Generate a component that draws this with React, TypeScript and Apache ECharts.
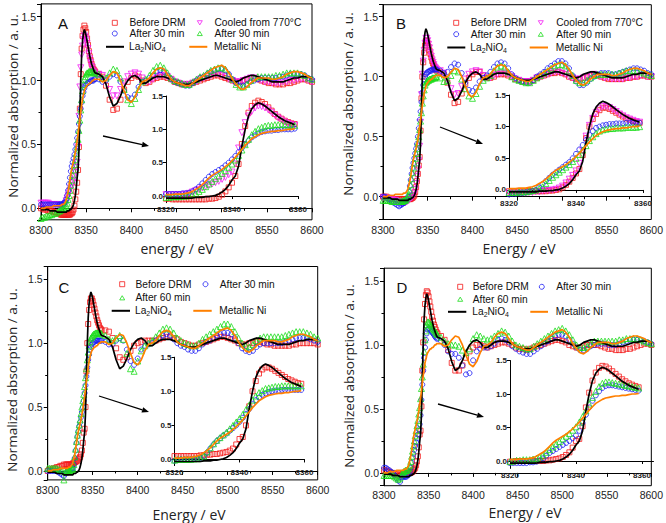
import React, { useEffect, useRef } from "react";
import * as echarts from "echarts";

// ---------- DATA ----------
const energy: number[] = [
  8300, 8302, 8304, 8306, 8308, 8310, 8312, 8314, 8316, 8318,
  8320, 8321, 8322, 8323, 8324, 8325, 8326, 8327, 8328, 8329,
  8330, 8331, 8332, 8333, 8334, 8335, 8336, 8337, 8338, 8339,
  8340, 8341, 8342, 8343, 8344, 8345, 8346, 8347, 8348, 8349,
  8350, 8351, 8352, 8353, 8354, 8355, 8356, 8357, 8358, 8359,
  8360,
  8364, 8368, 8372, 8376, 8380, 8384, 8388, 8392, 8396, 8400,
  8404, 8408, 8412, 8416, 8420, 8424, 8428, 8432, 8436, 8440,
  8444, 8448, 8452, 8456, 8460, 8464, 8468, 8472, 8476, 8480,
  8484, 8488, 8492, 8496, 8500, 8504, 8508, 8512, 8516, 8520,
  8524, 8528, 8532, 8536, 8540, 8544, 8548, 8552, 8556, 8560,
  8564, 8568, 8572, 8576, 8580, 8584, 8588, 8592, 8596, 8600,
];

const la2nio4: number[] = [
  -0.01, -0.01, -0.01, -0.01, -0.01, -0.02, -0.02, -0.02, -0.02, -0.03,
  -0.03, -0.03, -0.03, -0.03, -0.03, -0.03, -0.03, -0.03, -0.03, -0.02,
  -0.02, -0.02, -0.01, -0.01, 0.0, 0.01, 0.03, 0.06, 0.1, 0.16,
  0.24, 0.3, 0.45, 0.75, 1.0, 1.2, 1.31, 1.37, 1.4, 1.38,
  1.35, 1.31, 1.27, 1.23, 1.19, 1.16, 1.13, 1.11, 1.09, 1.07,
  1.06,
  1.05, 1.03, 0.97, 0.87, 0.8, 0.82, 0.88, 0.95, 1.0, 1.03,
  1.04, 1.02, 0.98, 0.98, 1.0, 1.02, 1.03, 1.03, 1.03, 1.02,
  1.01, 0.99, 0.98, 0.97, 0.97, 0.97, 0.98, 0.99, 1.0, 1.01,
  1.02, 1.03, 1.04, 1.04, 1.03, 1.02, 1.01, 1.0, 0.99, 1.0,
  1.02, 1.03, 1.04, 1.04, 1.03, 1.02, 1.01, 1.0, 0.99, 0.99,
  0.99, 0.99, 1.0, 1.01, 1.02, 1.02, 1.03, 1.03, 1.03, 1.02,
];

const metallicNi: number[] = [
  0.0, 0.0, 0.0, 0.01, 0.01, 0.01, 0.01, 0.02, 0.02, 0.02,
  0.02, 0.02, 0.02, 0.03, 0.03, 0.03, 0.04, 0.05, 0.07, 0.1,
  0.13, 0.17, 0.22, 0.27, 0.31, 0.34, 0.37, 0.4, 0.44, 0.48,
  0.53, 0.58, 0.64, 0.7, 0.76, 0.81, 0.86, 0.89, 0.92, 0.94,
  0.95, 0.96, 0.97, 0.97, 0.98, 0.98, 0.99, 1.0, 1.0, 1.01,
  1.01,
  1.01, 0.99, 1.0, 1.04, 1.07, 1.06, 1.0, 0.92, 0.85, 0.83,
  0.87, 0.94, 0.99, 1.0, 1.02, 1.06, 1.09, 1.1, 1.09, 1.05,
  1.01, 0.99, 0.98, 0.97, 0.96, 0.96, 0.98, 1.0, 1.02, 1.04,
  1.06, 1.08, 1.1, 1.11, 1.12, 1.1, 1.06, 1.01, 0.97, 0.94,
  0.93, 0.95, 0.98, 1.0, 1.02, 1.02, 1.02, 1.02, 1.01, 1.01,
  1.02, 1.03, 1.05, 1.06, 1.07, 1.07, 1.06, 1.05, 1.03, 1.02,
];

// Panel A
const aBefore: number[] = [
  0.0, 0.0, -0.01, -0.01, -0.02, -0.02, -0.02, -0.03, -0.03, -0.04,
  -0.04, -0.04, -0.05, -0.05, -0.05, -0.05, -0.05, -0.05, -0.05, -0.05,
  -0.05, -0.05, -0.05, -0.04, -0.04, -0.03, -0.01, 0.02, 0.07, 0.13,
  0.2, 0.3, 0.48, 0.78, 1.05, 1.25, 1.35, 1.4, 1.43, 1.41,
  1.38, 1.33, 1.28, 1.23, 1.19, 1.16, 1.13, 1.11, 1.09, 1.08,
  1.07,
  1.05, 1.03, 0.96, 0.85, 0.77, 0.78, 0.85, 0.93, 0.99, 1.02,
  1.04, 1.03, 1.0, 0.98, 0.99, 1.01, 1.02, 1.03, 1.03, 1.02,
  1.01, 0.99, 0.98, 0.97, 0.97, 0.97, 0.98, 0.99, 1.0, 1.01,
  1.02, 1.03, 1.04, 1.04, 1.03, 1.02, 1.01, 1.0, 0.99, 0.99,
  1.0, 1.01, 1.02, 1.02, 1.01, 1.0, 0.99, 0.98, 0.98, 0.97,
  0.97, 0.97, 0.98, 0.98, 0.99, 1.0, 1.01, 1.01, 1.0, 0.99,
];
const a30: number[] = [
  0.03, 0.03, 0.03, 0.03, 0.03, 0.03, 0.03, 0.03, 0.03, 0.03,
  0.03, 0.03, 0.03, 0.03, 0.03, 0.04, 0.04, 0.05, 0.07, 0.1,
  0.14, 0.19, 0.24, 0.29, 0.33, 0.36, 0.39, 0.42, 0.46, 0.5,
  0.55, 0.6, 0.66, 0.72, 0.78, 0.83, 0.88, 0.91, 0.94, 0.96,
  0.97, 0.98, 0.98, 0.99, 0.99, 1.0, 1.0, 1.0, 1.0, 1.01,
  1.01,
  1.01, 0.99, 1.0, 1.03, 1.05, 1.04, 0.99, 0.92, 0.87, 0.86,
  0.89, 0.95, 0.99, 1.0, 1.02, 1.04, 1.07, 1.08, 1.07, 1.04,
  1.01, 0.99, 0.98, 0.97, 0.96, 0.96, 0.98, 1.0, 1.02, 1.03,
  1.05, 1.07, 1.08, 1.09, 1.09, 1.08, 1.05, 1.01, 0.98, 0.96,
  0.96, 0.97, 0.99, 1.0, 1.01, 1.02, 1.02, 1.02, 1.02, 1.02,
  1.03, 1.03, 1.04, 1.05, 1.05, 1.05, 1.05, 1.04, 1.02, 1.01,
];
const aCooled: number[] = [
  0.04, 0.04, 0.04, 0.04, 0.04, 0.03, 0.03, 0.03, 0.03, 0.03,
  0.02, 0.02, 0.02, 0.02, 0.02, 0.02, 0.03, 0.04, 0.06, 0.08,
  0.1, 0.12, 0.14, 0.16, 0.18, 0.2, 0.22, 0.25, 0.28, 0.32,
  0.36, 0.48, 0.72, 0.95, 1.1, 1.2, 1.27, 1.32, 1.35, 1.34,
  1.32, 1.29, 1.25, 1.21, 1.17, 1.14, 1.11, 1.09, 1.07, 1.06,
  1.05,
  1.05, 1.04, 1.0, 0.93, 0.88, 0.88, 0.93, 0.99, 1.03, 1.05,
  1.06, 1.05, 1.02, 0.99, 0.99, 1.01, 1.03, 1.04, 1.04, 1.03,
  1.01, 0.99, 0.98, 0.97, 0.97, 0.97, 0.98, 0.99, 1.01, 1.02,
  1.03, 1.04, 1.05, 1.05, 1.04, 1.03, 1.01, 1.0, 0.99, 0.99,
  1.0, 1.01, 1.02, 1.02, 1.01, 1.0, 0.99, 0.99, 0.98, 0.98,
  0.98, 0.99, 0.99, 1.0, 1.0, 1.01, 1.01, 1.01, 1.0, 0.99,
];
const a90: number[] = [
  -0.08, -0.07, -0.07, -0.06, -0.06, -0.05, -0.05, -0.04, -0.04, -0.03,
  -0.02, -0.02, -0.01, -0.01, -0.01, 0.0, 0.0, 0.01, 0.02, 0.04,
  0.07, 0.1, 0.14, 0.18, 0.22, 0.26, 0.3, 0.34, 0.38, 0.43,
  0.48, 0.54, 0.61, 0.69, 0.77, 0.85, 0.92, 0.97, 1.01, 1.03,
  1.05, 1.06, 1.06, 1.07, 1.07, 1.07, 1.07, 1.07, 1.06, 1.06,
  1.06,
  1.05, 1.02, 1.02, 1.06, 1.09, 1.08, 1.02, 0.93, 0.85, 0.82,
  0.86, 0.93, 0.99, 1.01, 1.04, 1.08, 1.11, 1.12, 1.1, 1.06,
  1.02, 1.0, 0.99, 0.98, 0.97, 0.97, 0.99, 1.01, 1.03, 1.04,
  1.06, 1.08, 1.09, 1.1, 1.1, 1.09, 1.05, 1.01, 0.97, 0.95,
  0.95, 0.97, 1.0, 1.02, 1.03, 1.03, 1.03, 1.03, 1.03, 1.04,
  1.04, 1.05, 1.06, 1.06, 1.06, 1.06, 1.05, 1.04, 1.02, 1.01,
];

// Panel B
const bBefore: number[] = [
  0.0, 0.0, 0.0, -0.01, -0.01, -0.01, -0.02, -0.02, -0.02, -0.02,
  -0.02, -0.02, -0.02, -0.02, -0.02, -0.02, -0.02, -0.02, -0.02, -0.02,
  -0.02, -0.02, -0.01, -0.01, 0.0, 0.01, 0.04, 0.08, 0.13, 0.19,
  0.26, 0.33, 0.55, 0.82, 1.0, 1.12, 1.2, 1.26, 1.3, 1.3,
  1.28, 1.25, 1.22, 1.19, 1.16, 1.13, 1.11, 1.09, 1.07, 1.06,
  1.05,
  1.04, 1.02, 0.95, 0.85, 0.78, 0.79, 0.86, 0.94, 0.99, 1.02,
  1.04, 1.04, 1.01, 0.99, 0.99, 1.0, 1.02, 1.02, 1.02, 1.01,
  1.0, 0.98, 0.97, 0.96, 0.96, 0.96, 0.97, 0.99, 1.0, 1.01,
  1.02, 1.03, 1.03, 1.04, 1.03, 1.02, 1.0, 0.99, 0.98, 0.98,
  0.99, 1.0, 1.01, 1.02, 1.01, 1.0, 0.99, 0.98, 0.98, 0.98,
  0.98, 0.98, 0.99, 0.99, 1.0, 1.0, 1.01, 1.01, 1.0, 1.0,
];
const b30: number[] = [
  0.0, 0.0, -0.01, -0.02, -0.03, -0.04, -0.05, -0.06, -0.07, -0.08,
  -0.07, -0.06, -0.06, -0.05, -0.05, -0.04, -0.03, -0.02, 0.0, 0.04,
  0.09, 0.14, 0.19, 0.24, 0.28, 0.32, 0.36, 0.4, 0.44, 0.5,
  0.57, 0.64, 0.71, 0.79, 0.87, 0.93, 0.98, 1.0, 1.02, 1.03,
  1.04, 1.04, 1.05, 1.05, 1.05, 1.06, 1.06, 1.06, 1.06, 1.06,
  1.06,
  1.05, 1.03, 1.04, 1.08, 1.11, 1.1, 1.03, 0.95, 0.89, 0.88,
  0.91, 0.96, 0.99, 1.01, 1.04, 1.08, 1.11, 1.12, 1.11, 1.07,
  1.02, 0.99, 0.97, 0.96, 0.95, 0.95, 0.97, 1.0, 1.02, 1.04,
  1.07, 1.09, 1.11, 1.13, 1.13, 1.11, 1.07, 1.01, 0.96, 0.93,
  0.93, 0.95, 0.98, 1.0, 1.02, 1.03, 1.03, 1.03, 1.02, 1.02,
  1.03, 1.04, 1.05, 1.06, 1.07, 1.07, 1.06, 1.05, 1.03, 1.02,
];
const bCooled: number[] = [
  -0.01, -0.01, -0.01, -0.02, -0.02, -0.02, -0.03, -0.03, -0.04, -0.04,
  -0.05, -0.05, -0.05, -0.05, -0.05, -0.05, -0.04, -0.04, -0.03, -0.03,
  -0.02, -0.01, -0.01, 0.0, 0.01, 0.03, 0.06, 0.11, 0.17, 0.23,
  0.3, 0.42, 0.62, 0.85, 1.02, 1.13, 1.22, 1.28, 1.32, 1.32,
  1.3, 1.27, 1.24, 1.2, 1.17, 1.14, 1.12, 1.1, 1.08, 1.07,
  1.06,
  1.05, 1.03, 0.97, 0.9, 0.85, 0.86, 0.92, 0.98, 1.02, 1.04,
  1.05, 1.04, 1.01, 0.99, 0.99, 1.01, 1.02, 1.03, 1.03, 1.02,
  1.0, 0.98, 0.97, 0.96, 0.96, 0.96, 0.97, 0.99, 1.0, 1.01,
  1.02, 1.03, 1.04, 1.04, 1.03, 1.02, 1.0, 0.99, 0.98, 0.98,
  0.99, 1.0, 1.01, 1.02, 1.01, 1.0, 0.99, 0.99, 0.98, 0.98,
  0.98, 0.98, 0.99, 0.99, 1.0, 1.0, 1.01, 1.01, 1.0, 1.0,
];
const b90: number[] = [
  -0.03, -0.03, -0.03, -0.03, -0.03, -0.04, -0.04, -0.04, -0.04, -0.04,
  -0.04, -0.04, -0.04, -0.03, -0.03, -0.03, -0.02, -0.01, 0.0, 0.02,
  0.05, 0.1, 0.15, 0.2, 0.24, 0.28, 0.32, 0.36, 0.4, 0.45,
  0.5, 0.56, 0.63, 0.7, 0.78, 0.84, 0.89, 0.93, 0.95, 0.96,
  0.97, 0.97, 0.98, 0.98, 0.98, 0.99, 0.99, 0.99, 0.99, 1.0,
  1.0,
  0.99, 0.96, 0.97, 1.01, 1.05, 1.04, 0.98, 0.9, 0.84, 0.82,
  0.86, 0.92, 0.97, 0.99, 1.01, 1.05, 1.08, 1.09, 1.08, 1.04,
  1.0, 0.98, 0.97, 0.96, 0.95, 0.95, 0.97, 0.99, 1.01, 1.03,
  1.05, 1.07, 1.09, 1.1, 1.1, 1.09, 1.05, 1.01, 0.97, 0.95,
  0.95, 0.97, 0.99, 1.01, 1.02, 1.02, 1.02, 1.02, 1.02, 1.02,
  1.03, 1.04, 1.05, 1.05, 1.05, 1.05, 1.04, 1.03, 1.02, 1.01,
];

// Panel C
const cBefore: number[] = [
  0.0, 0.01, 0.01, 0.02, 0.02, 0.03, 0.03, 0.04, 0.04, 0.05,
  0.05, 0.05, 0.05, 0.05, 0.05, 0.05, 0.05, 0.05, 0.06, 0.06,
  0.07, 0.07, 0.08, 0.08, 0.09, 0.1, 0.11, 0.13, 0.16, 0.22,
  0.3, 0.33, 0.5, 0.78, 1.0, 1.15, 1.26, 1.32, 1.35, 1.35,
  1.33, 1.3, 1.27, 1.24, 1.21, 1.18, 1.16, 1.14, 1.12, 1.11,
  1.1,
  1.1, 1.09, 1.04, 0.96, 0.89, 0.87, 0.89, 0.94, 0.98, 1.0,
  1.01, 1.02, 1.02, 1.02, 1.02, 1.03, 1.04, 1.05, 1.05, 1.04,
  1.03, 1.01, 1.0, 0.99, 0.98, 0.98, 0.99, 1.0, 1.01, 1.02,
  1.03, 1.04, 1.05, 1.05, 1.04, 1.03, 1.02, 1.0, 0.99, 0.99,
  1.0, 1.0, 1.01, 1.01, 1.0, 0.99, 0.99, 0.98, 0.98, 0.98,
  0.98, 0.98, 0.99, 0.99, 1.0, 1.0, 1.0, 1.0, 1.0, 0.99,
];
const c30: number[] = [
  0.0, 0.0, 0.0, 0.0, 0.0, 0.0, -0.01, -0.02, -0.03, -0.04,
  -0.02, -0.01, 0.0, 0.0, 0.0, 0.0, 0.01, 0.01, 0.02, 0.05,
  0.1, 0.16, 0.22, 0.27, 0.31, 0.35, 0.38, 0.42, 0.46, 0.5,
  0.55, 0.61, 0.67, 0.74, 0.81, 0.87, 0.91, 0.95, 0.97, 0.99,
  1.0, 1.01, 1.01, 1.02, 1.02, 1.02, 1.02, 1.02, 1.02, 1.02,
  1.02,
  1.01, 0.99, 0.99, 1.02, 1.04, 1.02, 0.95, 0.86, 0.83, 0.88,
  0.95, 0.98, 0.99, 1.0, 1.02, 1.04, 1.06, 1.07, 1.06, 1.03,
  1.0, 0.98, 0.97, 0.95, 0.94, 0.94, 0.96, 0.99, 1.01, 1.02,
  1.04, 1.06, 1.07, 1.08, 1.08, 1.07, 1.04, 1.0, 0.96, 0.94,
  0.93, 0.94, 0.97, 0.99, 1.0, 1.0, 1.0, 1.0, 1.0, 1.0,
  1.01, 1.02, 1.03, 1.04, 1.04, 1.04, 1.04, 1.03, 1.02, 1.01,
];
const c60: number[] = [
  0.02, 0.02, 0.02, 0.02, 0.02, 0.02, 0.01, 0.01, 0.0, -0.07,
  -0.01, 0.0, 0.0, 0.0, 0.0, 0.0, 0.01, 0.01, 0.02, 0.05,
  0.11, 0.17, 0.23, 0.28, 0.32, 0.36, 0.4, 0.45, 0.5, 0.55,
  0.6, 0.66, 0.73, 0.8, 0.87, 0.93, 0.98, 1.01, 1.04, 1.05,
  1.06, 1.07, 1.07, 1.08, 1.08, 1.08, 1.08, 1.08, 1.08, 1.08,
  1.07,
  1.06, 1.03, 1.02, 1.04, 1.06, 1.03, 0.92, 0.8, 0.78, 0.86,
  0.94, 0.98, 1.0, 1.02, 1.05, 1.08, 1.11, 1.12, 1.11, 1.08,
  1.04, 1.02, 1.0, 0.99, 0.98, 0.98, 1.0, 1.03, 1.05, 1.07,
  1.09, 1.11, 1.13, 1.15, 1.15, 1.13, 1.09, 1.04, 1.0, 0.98,
  0.97, 0.99, 1.02, 1.04, 1.05, 1.05, 1.05, 1.05, 1.05, 1.05,
  1.06, 1.07, 1.08, 1.09, 1.09, 1.09, 1.08, 1.07, 1.05, 1.04,
];

// Panel D
const dBefore: number[] = [
  0.02, 0.02, 0.01, 0.01, 0.0, 0.0, -0.01, -0.01, -0.02, -0.02,
  -0.01, -0.01, 0.0, 0.0, 0.0, 0.0, 0.0, 0.0, 0.0, 0.0,
  0.0, 0.01, 0.01, 0.02, 0.03, 0.04, 0.06, 0.09, 0.13, 0.2,
  0.3, 0.33, 0.52, 0.8, 1.02, 1.2, 1.32, 1.39, 1.42, 1.41,
  1.38, 1.34, 1.3, 1.26, 1.22, 1.19, 1.16, 1.14, 1.12, 1.1,
  1.09,
  1.07, 1.04, 0.96, 0.86, 0.8, 0.8, 0.84, 0.9, 0.95, 0.98,
  1.0, 1.0, 0.99, 0.98, 0.99, 1.0, 1.01, 1.02, 1.02, 1.01,
  1.0, 0.98, 0.97, 0.97, 0.96, 0.97, 0.98, 0.99, 1.0, 1.01,
  1.02, 1.03, 1.04, 1.04, 1.03, 1.02, 1.0, 0.99, 0.98, 0.98,
  0.99, 1.0, 1.0, 1.0, 1.0, 0.99, 0.98, 0.97, 0.97, 0.96,
  0.96, 0.96, 0.97, 0.97, 0.98, 0.99, 1.0, 1.01, 1.01, 1.0,
];
const d30: number[] = [
  0.04, 0.04, 0.03, 0.02, 0.01, 0.0, -0.02, -0.04, -0.06, -0.07,
  -0.03, -0.03, -0.03, -0.03, -0.03, -0.03, -0.02, -0.02, -0.01, 0.01,
  0.04, 0.08, 0.12, 0.15, 0.18, 0.21, 0.24, 0.27, 0.3, 0.34,
  0.38, 0.45, 0.57, 0.69, 0.8, 0.9, 0.98, 1.04, 1.09, 1.12,
  1.13, 1.13, 1.12, 1.11, 1.1, 1.09, 1.08, 1.07, 1.06, 1.05,
  1.05,
  1.03, 1.0, 0.95, 0.93, 0.93, 0.9, 0.84, 0.77, 0.78, 0.88,
  0.95, 0.97, 0.98, 0.98, 0.99, 1.01, 1.04, 1.05, 1.04, 1.02,
  0.99, 0.97, 0.95, 0.94, 0.93, 0.93, 0.95, 0.97, 0.99, 1.01,
  1.03, 1.05, 1.07, 1.08, 1.08, 1.07, 1.04, 1.01, 0.98, 0.96,
  0.96, 0.97, 0.99, 1.0, 1.01, 1.01, 1.01, 1.0, 1.0, 1.0,
  1.01, 1.02, 1.03, 1.04, 1.04, 1.04, 1.04, 1.03, 1.02, 1.01,
];
const d60: number[] = [
  -0.02, -0.02, -0.02, -0.02, -0.02, -0.02, -0.03, -0.04, -0.05, -0.04,
  -0.01, 0.0, 0.01, 0.01, 0.02, 0.02, 0.02, 0.03, 0.04, 0.06,
  0.09, 0.13, 0.17, 0.21, 0.25, 0.29, 0.33, 0.37, 0.41, 0.46,
  0.51, 0.58, 0.66, 0.75, 0.85, 0.95, 1.04, 1.11, 1.16, 1.18,
  1.18, 1.17, 1.16, 1.15, 1.14, 1.13, 1.12, 1.11, 1.1, 1.09,
  1.08,
  1.06, 1.03, 1.01, 1.0, 1.0, 0.99, 0.96, 0.94, 0.97, 1.05,
  1.08, 1.07, 1.05, 1.04, 1.05, 1.07, 1.09, 1.11, 1.1, 1.07,
  1.03, 1.0, 0.99, 0.98, 0.97, 0.97, 0.99, 1.01, 1.03, 1.05,
  1.07, 1.09, 1.11, 1.12, 1.13, 1.11, 1.08, 1.04, 1.0, 0.98,
  0.98, 0.99, 1.01, 1.03, 1.03, 1.03, 1.03, 1.03, 1.03, 1.03,
  1.04, 1.04, 1.05, 1.05, 1.05, 1.05, 1.04, 1.03, 1.02, 1.01,
];

const mainTicksX = { min: 8300, max: 8600, interval: 50 };
const insetTicksX = { min: 8320, max: 8360, interval: 20 };

// ---------- STYLE / LAYOUT ----------
const FONT = '"Liberation Sans", Arial, sans-serif';
const TITLE_FONT = '"Open Sans", "Liberation Sans", sans-serif';
const RED = "#f41c1c";
const BLUE = "#1c1cf4";
const MAGENTA = "#f41cf4";
const GREEN = "#1cdc1c";
const ORANGE = "#ff8000";
const BLACK = "#000000";
const LINE_NAMES = ["La2NiO4", "Metallic Ni"];

type Marker = "square" | "circle" | "down" | "up";
interface Sample { name: string; values: number[]; marker: Marker; color: string }
interface Box { left: number; top: number; width: number; height: number; yMin: number; yMax: number; xMax?: number }
interface Col { mx: number; tx: number; l0: number; l1: number }
interface Slot { name: string; col: number; row: number }
interface Panel {
  letter: string; letterPos: [number, number];
  samples: Sample[];
  main: Box; inset: Box; xLabelMargin: number;
  rows: number[]; cols: Col[]; slots: Slot[];
  xTitle: string; xTitlePos: [number, number]; yTitlePos: [number, number];
  arrow: [number, number, number, number];
}

const panels: Panel[] = [
  {
    letter: "A", letterPos: [63, 23],
    samples: [
      { name: "Before DRM", values: aBefore, marker: "square", color: RED },
      { name: "Cooled from 770°C", values: aCooled, marker: "down", color: MAGENTA },
      { name: "After 30 min", values: a30, marker: "circle", color: BLUE },
      { name: "After 90 min", values: a90, marker: "up", color: GREEN },
    ],
    main: { left: 41, top: 3.9, width: 271, height: 215.9, yMin: -0.09, yMax: 1.6 },
    inset: { left: 166, top: 96, width: 132, height: 106.7, yMin: -0.1, yMax: 1.5, xMax: 8360 },
    xLabelMargin: 5,
    rows: [24.3, 35, 48.3],
    cols: [{ mx: 114.3, tx: 129, l0: 106, l1: 124 }, { mx: 199.3, tx: 214, l0: 189.3, l1: 207.3 }],
    slots: [
      { name: "Before DRM", col: 0, row: 0 }, { name: "Cooled from 770°C", col: 1, row: 0 },
      { name: "After 30 min", col: 0, row: 1 }, { name: "After 90 min", col: 1, row: 1 },
      { name: "La2NiO4", col: 0, row: 2 }, { name: "Metallic Ni", col: 1, row: 2 },
    ],
    xTitle: "energy / eV", xTitlePos: [177, 248], yTitlePos: [13, 106],
    arrow: [103, 136, 149, 146],
  },
  {
    letter: "B", letterPos: [401, 23],
    samples: [
      { name: "Before DRM", values: bBefore, marker: "square", color: RED },
      { name: "Cooled from 770°C", values: bCooled, marker: "down", color: MAGENTA },
      { name: "After 30 min", values: b30, marker: "circle", color: BLUE },
      { name: "After 90 min", values: b90, marker: "up", color: GREEN },
    ],
    main: { left: 383, top: 4.7, width: 271, height: 214.8, yMin: -0.19, yMax: 1.6 },
    inset: { left: 509, top: 95, width: 134, height: 101.9, yMin: -0.11, yMax: 1.5, xMax: 8360 },
    xLabelMargin: 5,
    rows: [24.3, 35.7, 49],
    cols: [{ mx: 455.7, tx: 470.3, l0: 447.3, l1: 465.3 }, { mx: 540.3, tx: 555.7, l0: 529.7, l1: 548 }],
    slots: [
      { name: "Before DRM", col: 0, row: 0 }, { name: "Cooled from 770°C", col: 1, row: 0 },
      { name: "After 30 min", col: 0, row: 1 }, { name: "After 90 min", col: 1, row: 1 },
      { name: "La2NiO4", col: 0, row: 2 }, { name: "Metallic Ni", col: 1, row: 2 },
    ],
    xTitle: "Energy / eV", xTitlePos: [519, 248], yTitlePos: [348, 104],
    arrow: [440, 127, 483, 144],
  },
  {
    letter: "C", letterPos: [64, 287],
    samples: [
      { name: "Before DRM", values: cBefore, marker: "square", color: RED },
      { name: "After 30 min", values: c30, marker: "circle", color: BLUE },
      { name: "After 60 min", values: c60, marker: "up", color: GREEN },
    ],
    main: { left: 47.7, top: 266.5, width: 270, height: 213.4, yMin: -0.07, yMax: 1.6 },
    inset: { left: 174.5, top: 357.2, width: 130, height: 108.4, yMin: -0.09, yMax: 1.5, xMax: 8360 },
    xLabelMargin: 5,
    rows: [285.7, 299.3, 312.3],
    cols: [{ mx: 121.7, tx: 135, l0: 111.7, l1: 130 }, { mx: 205, tx: 219.3, l0: 193.3, l1: 211.7 }],
    slots: [
      { name: "Before DRM", col: 0, row: 0 }, { name: "After 30 min", col: 1, row: 0 },
      { name: "After 60 min", col: 0, row: 1 },
      { name: "La2NiO4", col: 0, row: 2 }, { name: "Metallic Ni", col: 1, row: 2 },
    ],
    xTitle: "Energy / eV", xTitlePos: [189, 514], yTitlePos: [12, 380],
    arrow: [99, 396, 149, 412],
  },
  {
    letter: "D", letterPos: [402, 287],
    samples: [
      { name: "Before DRM", values: dBefore, marker: "square", color: RED },
      { name: "After 30 min", values: d30, marker: "circle", color: BLUE },
      { name: "After 60 min", values: d60, marker: "up", color: GREEN },
    ],
    main: { left: 384, top: 268.2, width: 270.7, height: 217.5, yMin: -0.1, yMax: 1.6 },
    inset: { left: 510, top: 360.5, width: 143.5, height: 107.9, yMin: -0.11, yMax: 1.5, xMax: 8363.5 },
    xLabelMargin: 4,
    rows: [288.3, 300.7, 313.3],
    cols: [{ mx: 459.7, tx: 472.3, l0: 448, l1: 466.3 }, { mx: 541.3, tx: 555.7, l0: 530.3, l1: 548 }],
    slots: [
      { name: "Before DRM", col: 0, row: 0 }, { name: "After 30 min", col: 1, row: 0 },
      { name: "After 60 min", col: 0, row: 1 },
      { name: "La2NiO4", col: 0, row: 2 }, { name: "Metallic Ni", col: 1, row: 2 },
    ],
    xTitle: "Energy / eV", xTitlePos: [525, 512], yTitlePos: [349, 376],
    arrow: [438, 404, 484, 417],
  },
];

const MARKER_SYMBOL: Record<Marker, { symbol: string; symbolSize: number; symbolRotate: number }> = {
  square: { symbol: "rect", symbolSize: 5, symbolRotate: 0 },
  circle: { symbol: "circle", symbolSize: 5, symbolRotate: 0 },
  down: { symbol: "triangle", symbolSize: 6, symbolRotate: 180 },
  up: { symbol: "triangle", symbolSize: 6, symbolRotate: 0 },
};
const LEGEND_ICON: Record<Marker, string> = {
  square: "rect",
  circle: "circle",
  down: "path://M0,0L12,0L6,10Z",
  up: "path://M6,0L12,10L0,10Z",
};

function pairs(values: number[], lo: number, hi: number) {
  const out: number[][] = [];
  energy.forEach((e, i) => {
    if (e >= lo && e <= hi) out.push([e, values[i]]);
  });
  return out;
}

function arrowGraphic(x1: number, y1: number, x2: number, y2: number) {
  const ang = Math.atan2(y2 - y1, x2 - x1);
  const L = 7, W = 2.8;
  const bx = x2 - L * Math.cos(ang), by = y2 - L * Math.sin(ang);
  const nx = -Math.sin(ang), ny = Math.cos(ang);
  return [
    { type: "line", silent: true, shape: { x1, y1, x2: bx, y2: by }, style: { stroke: BLACK, lineWidth: 1.3 } },
    {
      type: "polygon", silent: true,
      shape: { points: [[x2, y2], [bx + nx * W, by + ny * W], [bx - nx * W, by - ny * W]] },
      style: { fill: BLACK },
    },
  ];
}

function buildOption() {
  const grid: any[] = [];
  const xAxis: any[] = [];
  const yAxis: any[] = [];
  const series: any[] = [];
  const legend: any[] = [];
  const graphic: any[] = [];

  const fmt1 = (v: number) => v.toFixed(1);
  const fmt0 = (v: number) => String(Math.round(v));

  panels.forEach((p, pi) => {
    const mainIdx = pi * 2;
    const insetIdx = pi * 2 + 1;
    grid.push({
      left: p.main.left, top: p.main.top, width: p.main.width, height: p.main.height,
      show: true, borderColor: BLACK, borderWidth: 1, backgroundColor: "transparent",
    });
    xAxis.push({
      gridIndex: mainIdx, type: "value", ...mainTicksX,
      axisLine: { lineStyle: { color: BLACK, width: 1 } },
      axisTick: { inside: false, length: 4, lineStyle: { color: BLACK } },
      minorTick: { show: true, splitNumber: 2, length: 2.5, lineStyle: { color: BLACK } },
      splitLine: { show: false },
      axisLabel: { fontSize: 10.5, color: "#222", margin: p.xLabelMargin, fontFamily: FONT, formatter: fmt0 },
    });
    yAxis.push({
      gridIndex: mainIdx, type: "value", min: p.main.yMin, max: p.main.yMax, splitNumber: 3,
      axisLine: { lineStyle: { color: BLACK, width: 1 } },
      axisTick: { inside: false, length: 4, lineStyle: { color: BLACK } },
      minorTick: { show: true, splitNumber: 2, length: 2.5, lineStyle: { color: BLACK } },
      splitLine: { show: false },
      axisLabel: {
        fontSize: 10.5, color: "#222", margin: 5, fontFamily: FONT,
        showMinLabel: false, showMaxLabel: false, formatter: fmt1,
      },
    });
    grid.push({
      left: p.inset.left, top: p.inset.top, width: p.inset.width, height: p.inset.height,
      show: false,
    });
    xAxis.push({
      gridIndex: insetIdx, type: "value", min: insetTicksX.min, max: p.inset.xMax, interval: insetTicksX.interval,
      axisLine: { lineStyle: { color: BLACK, width: 1 } },
      axisTick: { inside: false, length: 3, lineStyle: { color: BLACK } },
      splitLine: { show: false },
      axisLabel: {
        fontSize: 8, fontWeight: "bold", color: "#222", margin: 3, fontFamily: FONT, formatter: fmt0,
        showMaxLabel: p.inset.xMax === insetTicksX.max,
      },
    });
    yAxis.push({
      gridIndex: insetIdx, type: "value", min: p.inset.yMin, max: p.inset.yMax, splitNumber: 3,
      axisLine: { lineStyle: { color: BLACK, width: 1 } },
      axisTick: { inside: false, length: 3, lineStyle: { color: BLACK } },
      splitLine: { show: false },
      axisLabel: {
        fontSize: 8, fontWeight: "bold", color: "#222", margin: 3, fontFamily: FONT,
        showMinLabel: false, formatter: fmt1,
      },
    });

    const addSeries = (axisIdx: number, lo: number, hi: number) => {
      p.samples.forEach((s) => {
        series.push({
          type: "scatter", name: s.name, xAxisIndex: axisIdx, yAxisIndex: axisIdx,
          data: pairs(s.values, lo, hi), ...MARKER_SYMBOL[s.marker], silent: true,
          itemStyle: { color: "rgba(0,0,0,0)", borderColor: s.color, borderWidth: 1 },
          z: 2,
        });
      });
      series.push({
        type: "line", name: "La2NiO4", xAxisIndex: axisIdx, yAxisIndex: axisIdx,
        data: pairs(la2nio4, lo, hi), symbol: "none", showSymbol: false, silent: true,
        lineStyle: { color: BLACK, width: 1.7 }, itemStyle: { color: BLACK }, z: 3,
      });
      series.push({
        type: "line", name: "Metallic Ni", xAxisIndex: axisIdx, yAxisIndex: axisIdx,
        data: pairs(metallicNi, lo, hi), symbol: "none", showSymbol: false, silent: true,
        lineStyle: { color: ORANGE, width: 1.7 }, itemStyle: { color: ORANGE }, z: 3,
      });
    };
    addSeries(mainIdx, 8300, 8600);
    addSeries(insetIdx, 8320, 8359);

    p.slots.forEach((sl) => {
      const col = p.cols[sl.col];
      const isLine = LINE_NAMES.includes(sl.name);
      const sample = p.samples.find((s) => s.name === sl.name);
      const iconW = isLine ? col.l1 - col.l0 : 5;
      const iconH = isLine ? 2 : 5;
      const left = isLine ? col.l0 : col.mx - 2.5;
      const padLeft = Math.max(0, col.tx - (left + iconW + 5));
      const icon = isLine ? "rect" : LEGEND_ICON[(sample as Sample).marker];
      legend.push({
        show: true, data: [{ name: sl.name, icon }], left, top: p.rows[sl.row] - 6.5,
        padding: 0, itemWidth: iconW, itemHeight: iconH, selectedMode: false,
        itemStyle: isLine ? { borderWidth: 0 } : { borderWidth: 1 },
        textStyle: {
          fontSize: 10.2, color: "#111", fontFamily: FONT, padding: [0, 0, 0, padLeft],
          rich: {
            n: { fontSize: 10.2, fontFamily: FONT, color: "#111", lineHeight: 13 },
            s: { fontSize: 7, fontFamily: FONT, color: "#111", lineHeight: 7, verticalAlign: "bottom" },
          },
        },
        formatter: (name: string) => (name === "La2NiO4" ? "{n|La}{s|2}{n|NiO}{s|4}" : name),
      });
    });

    graphic.push({
      type: "text", x: p.letterPos[0], y: p.letterPos[1], silent: true,
      style: { text: p.letter, fontSize: 15, fontFamily: FONT, fill: "#111", align: "center", verticalAlign: "middle" },
    });
    graphic.push({
      type: "text", x: p.xTitlePos[0], y: p.xTitlePos[1], silent: true,
      style: { text: p.xTitle, fontSize: 14, fontFamily: TITLE_FONT, fill: "#222", align: "center", verticalAlign: "middle" },
    });
    graphic.push({
      type: "text", x: p.yTitlePos[0], y: p.yTitlePos[1], rotation: Math.PI / 2, silent: true,
      style: {
        text: "Normalized absorption / a. u.", fontSize: 13.5, fontFamily: TITLE_FONT, fill: "#222",
        align: "center", verticalAlign: "middle",
      },
    });
    graphic.push(...arrowGraphic(p.arrow[0], p.arrow[1], p.arrow[2], p.arrow[3]));
  });

  return {
    animation: false,
    backgroundColor: "#ffffff",
    textStyle: { fontFamily: FONT },
    grid, xAxis, yAxis, series, legend, graphic,
  };
}

export default function App() {
  const ref = useRef<HTMLDivElement>(null);
  useEffect(() => {
    if (!ref.current) return;
    const chart = echarts.init(ref.current, null, { renderer: "svg" });
    chart.setOption(buildOption() as any);
    return () => chart.dispose();
  }, []);
  return (
    <div
      ref={ref}
      style={{ position: "absolute", left: 0, top: 0, width: 666, height: 523, background: "#fff" }}
    />
  );
}
